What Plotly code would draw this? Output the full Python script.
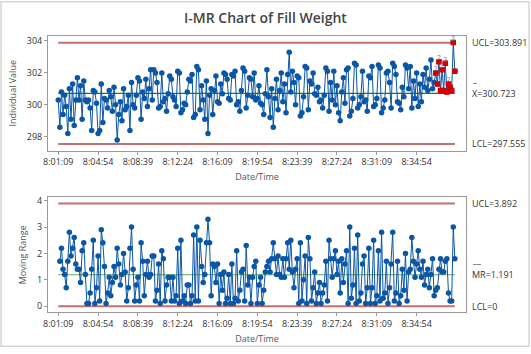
import numpy as np
import pandas as pd
import plotly.graph_objects as go

# ---------------- data ----------------
fill_weight = [
    300.3, 298.6, 300.8, 299.4, 300.6, 299.9, 298.2, 301.0, 299.1, 301.3,
    298.7, 300.3, 301.7, 300.3, 301.2, 299.1, 301.5, 300.3, 300.2, 300.3,
    299.8, 298.4, 300.9, 300.8, 300.1, 298.2, 298.4, 301.3, 298.9, 300.4,
    300.3, 299.8, 300.9, 300.5, 299.6, 301.1, 300.0, 297.8, 299.4, 300.2,
    299.0, 301.0, 299.7, 299.9, 300.6, 298.4, 301.4, 300.0, 299.8, 300.6,
    301.7, 301.5, 299.1, 300.8, 300.4, 301.6, 299.9, 301.0, 302.2, 300.3,
    302.2, 302.0, 301.4, 299.8, 299.9, 302.0, 300.2, 300.4, 299.6, 300.7,
    301.8, 301.6, 300.5, 300.3, 299.9, 302.1, 302.0, 299.5, 299.7, 300.1,
    300.0, 300.8, 301.6, 301.5, 301.9, 299.2, 299.4, 302.4, 302.2, 299.7,
    301.2, 300.3, 299.1, 301.5, 298.2, 300.6, 301.0, 299.4, 300.9, 301.8,
    300.2, 300.1, 301.3, 300.7, 302.0, 301.9, 301.6, 300.4, 300.3, 301.9,
    301.8, 302.1, 300.0, 300.2, 299.6, 300.9, 302.3, 302.1, 299.8, 300.6,
    301.7, 301.6, 300.5, 302.0, 300.3, 300.4, 301.2, 300.1, 300.0, 299.4,
    300.7, 302.2, 300.5, 299.2, 301.0, 298.6, 300.4, 301.6, 299.7, 300.9,
    302.0, 300.2, 301.3, 299.5, 301.9, 303.3, 300.8, 302.1, 301.4, 300.0,
    301.8, 301.7, 299.3, 299.5, 300.5, 302.4, 302.3, 299.7, 301.5, 301.3,
    302.0, 300.7, 300.6, 301.1, 300.2, 300.3, 299.8, 300.6, 302.3, 302.1,
    299.6, 301.4, 300.3, 302.1, 300.0, 301.2, 299.5, 299.0, 300.8, 301.7,
    300.1, 302.2, 302.3, 299.3, 299.6, 300.4, 302.6, 302.5, 299.8, 300.0,
    300.5, 302.1, 300.2, 300.3, 299.6, 301.8, 301.7, 302.4, 299.9, 300.0,
    300.4, 302.5, 302.3, 299.5, 299.8, 300.3, 302.0, 302.1, 301.4, 299.8,
    302.6, 302.4, 301.9, 300.2, 300.1, 299.7, 301.1, 300.5, 302.5, 302.3,
    301.0, 302.4, 299.8, 301.5, 300.4, 302.0, 299.9, 301.3, 300.2, 301.9,
    301.1, 302.3, 300.9, 301.6, 302.8, 301.0, 301.4, 302.0, 301.3, 302.7,
    300.9, 302.2, 300.9, 302.6, 300.8, 301.3, 301.1, 300.9, 303.9, 302.1,
]
start_time = "2024-01-01 08:01:09"
interval = "9s"
tick_labels = ["8:01:09", "8:04:54", "8:08:39", "8:12:24", "8:16:09",
               "8:19:54", "8:23:39", "8:27:24", "8:31:09", "8:34:54"]

i_ucl, i_center, i_lcl = 303.891, 300.723, 297.555
mr_ucl, mr_center, mr_lcl = 3.892, 1.191, 0.0

# ---------------- derived ----------------
vals = np.array(fill_weight)
times = pd.date_range(start_time, periods=len(vals), freq=interval)
mr = np.abs(np.diff(vals))
tickvals = [pd.Timestamp("2024-01-01 0" + t) for t in tick_labels]

# Test 2: 9 points in a row on same side of center line
side = np.sign(vals - i_center)
flag = np.zeros(len(vals), dtype=bool)
run = 0
for k in range(len(vals)):
    if k > 0 and side[k] == side[k - 1] and side[k] != 0:
        run += 1
    else:
        run = 1
    if run >= 9:
        flag[k] = True

# labels "2" on flagged points that are local peaks (others hidden by overlap)
lab_idx = [int(k) for k in np.where(flag)[0]
           if (k == len(vals) - 1 or vals[k] >= vals[k + 1]) and vals[k] >= vals[k - 1]]
lab_x = [times[k] for k in lab_idx]
lab_y = [float(vals[k]) for k in lab_idx]

t0, t1 = times[0], times[-1]
xr = [pd.Timestamp(start_time) - pd.Timedelta(seconds=58),
      pd.Timestamp(start_time) + pd.Timedelta(seconds=2304)]

BLUE = "#0C56A6"
LIMIT = "#C27070"
FONT = "Open Sans"

fig = go.Figure()

# I chart
for yv, col, w in [(i_ucl, LIMIT, 2), (i_lcl, LIMIT, 2), (i_center, "#0A8A0A", 1.3)]:
    fig.add_trace(go.Scatter(x=[t0, t1], y=[yv, yv], mode="lines",
                             line=dict(color=col, width=w), xaxis="x", yaxis="y",
                             hoverinfo="skip"))
fig.add_trace(go.Scatter(x=times, y=vals, mode="lines+markers",
                         line=dict(color=BLUE, width=1),
                         marker=dict(color=BLUE, size=5.5),
                         xaxis="x", yaxis="y"))
fig.add_trace(go.Scatter(x=times[flag], y=vals[flag], mode="markers",
                         marker=dict(color="#D40000", size=5.5, symbol="square"),
                         xaxis="x", yaxis="y"))
fig.add_trace(go.Scatter(x=lab_x, y=lab_y, mode="text",
                         text=["2"] * len(lab_idx), textposition="top center",
                         textfont=dict(size=7, color="#777777", family=FONT),
                         xaxis="x", yaxis="y", hoverinfo="skip", cliponaxis=False))

# MR chart
for yv, col, w in [(mr_ucl, LIMIT, 2), (mr_lcl, LIMIT, 2), (mr_center, "#5AAE5A", 1.2)]:
    fig.add_trace(go.Scatter(x=[t0, t1], y=[yv, yv], mode="lines",
                             line=dict(color=col, width=w), xaxis="x2", yaxis="y2",
                             hoverinfo="skip"))
fig.add_trace(go.Scatter(x=times[1:], y=mr, mode="lines+markers",
                         line=dict(color=BLUE, width=1),
                         marker=dict(color=BLUE, size=5.5),
                         xaxis="x2", yaxis="y2"))

axis_common = dict(showgrid=False, zeroline=False, showline=True, mirror=True,
                   linecolor="#9A9A9A", linewidth=1, ticks="outside", ticklen=3,
                   tickcolor="#9A9A9A", tickfont=dict(size=9, color="#333333", family=FONT))

xcommon = dict(axis_common, type="date", range=xr, tickvals=tickvals, ticktext=tick_labels,
               title=dict(text="Date/Time", font=dict(size=9, color="#555555", family=FONT),
                          standoff=6))

fig.update_layout(
    width=531, height=354,
    margin=dict(l=48, r=65, t=36, b=36),
    paper_bgcolor="white", plot_bgcolor="white",
    showlegend=False,
    font=dict(family=FONT),
    title=dict(text="I-MR Chart of Fill Weight", x=0.5, xref="container", xanchor="center",
               y=1 - 18 / 354, yref="container", yanchor="middle",
               font=dict(size=14, color="#444444", family=FONT, weight=600)),
    xaxis=dict(xcommon, domain=[0, 1], anchor="y"),
    xaxis2=dict(xcommon, domain=[0, 1], anchor="y2"),
    yaxis=dict(axis_common, domain=[0.5851, 1], range=[297.14, 304.31],
               tickvals=[298, 300, 302, 304], anchor="x",
               title=dict(text="Individual Value", font=dict(size=9, color="#555555", family=FONT),
                          standoff=8)),
    yaxis2=dict(axis_common, domain=[0, 0.4149], range=[-0.22, 4.12],
                tickvals=[0, 1, 2, 3, 4], anchor="x2",
                title=dict(text="Moving Range", font=dict(size=9, color="#555555", family=FONT),
                           standoff=8)),
)

ax = (470 - 48) / 418
lab_font = dict(size=9, color="#333333", family=FONT)
ann = [
    dict(text="UCL=303.891", x=ax, y=i_ucl, yref="y"),
    dict(text="X=300.723", x=ax, y=i_center, yref="y"),
    dict(text="LCL=297.555", x=ax, y=i_lcl, yref="y"),
    dict(text="UCL=3.892", x=ax, y=mr_ucl, yref="y2"),
    dict(text="MR=1.191", x=ax, y=mr_center, yref="y2"),
    dict(text="LCL=0", x=ax, y=mr_lcl, yref="y2"),
    dict(text="_", x=ax, y=i_center, yref="y", yshift=15),
    dict(text="__", x=ax, y=mr_center, yref="y2", yshift=15),
]
for a in ann:
    a.update(xref="paper", xanchor="left", yanchor="middle", showarrow=False, font=lab_font)
    fig.add_annotation(**a)

# outer light border
fig.add_shape(type="rect", xref="paper", yref="paper",
              x0=(1 - 48) / 418, x1=(529 - 48) / 418,
              y0=(318 - 353) / 282, y1=(318 - 1) / 282,
              line=dict(color="#D6D6D6", width=1.5), layer="below")

fig.write_html("out.html")
